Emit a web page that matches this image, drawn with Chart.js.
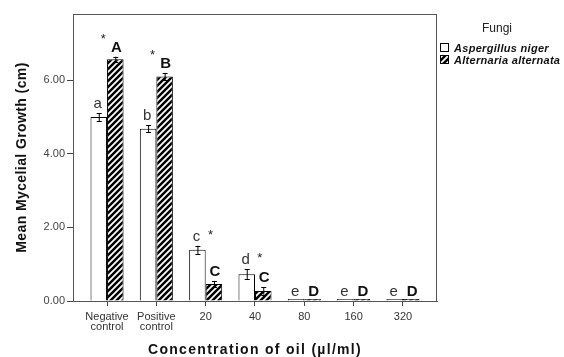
<!DOCTYPE html>
<html>
<head>
<meta charset="utf-8">
<script src="https://cdn.jsdelivr.net/npm/chart.js@4"></script>
<style>
  body { margin: 0; background: #fff; }
  #wrap { width: 564px; height: 357px; }
</style>
</head>
<body>
<div id="wrap"><canvas id="chart" width="564" height="357"></canvas></div>
<script>
// categories and values
const categories = [['Negative', 'control'], ['Positive', 'control'], '20', '40', '80', '160', '320'];
const aspergillus = [5.00, 4.68, 1.39, 0.73, 0, 0, 0];
const aspergillusErr = [0.11, 0.10, 0.11, 0.13, 0, 0, 0];
const alternaria = [6.57, 6.10, 0.46, 0.27, 0, 0, 0];
const alternariaErr = [0.07, 0.10, 0.08, 0.10, 0, 0, 0];
const aspLetters = ['a', 'b', 'c', 'd', 'e', 'e', 'e'];
const altLetters = ['A', 'B', 'C', 'C', 'D', 'D', 'D'];
const aspStar = [false, false, true, true, false, false, false];
const altStar = [true, true, false, false, false, false, false];
const yTicks = [0, 2, 4, 6];
const xTitle = 'Concentration of oil (µl/ml)';
const yTitle = 'Mean Mycelial Growth (cm)';
const legendTitle = 'Fungi';

const FONT = 'Arial, "Liberation Sans", sans-serif';

// diagonal hatch for Alternaria bars
function makeHatch() {
  const s = 6;
  const c = document.createElement('canvas');
  c.width = s; c.height = s;
  const g = c.getContext('2d');
  g.fillStyle = '#000';
  g.fillRect(0, 0, s, s);
  g.strokeStyle = '#fff';
  g.lineWidth = 1.8;
  g.beginPath();
  g.moveTo(-1, 1); g.lineTo(1, -1);
  g.moveTo(0, s); g.lineTo(s, 0);
  g.moveTo(s - 1, s + 1); g.lineTo(s + 1, s - 1);
  g.stroke();
  return g.createPattern(c, 'repeat');
}
const hatch = makeHatch();

const toPoints = arr => arr.map((v, i) => ({ x: i, y: v }));

// frame round the plot area + error bars + letters + titles + legend
const extras = {
  id: 'extras',
  afterDatasetsDraw(chart) {
    const ctx = chart.ctx;
    const a = chart.chartArea;
    const y = chart.scales.y;
    ctx.save();
    ctx.strokeStyle = '#555';
    ctx.lineWidth = 1;
    ctx.strokeRect(a.left + 0.5, a.top + 0.5, a.right - a.left - 1, a.bottom - a.top);

    const sets = [
      { vals: aspergillus, errs: aspergillusErr, letters: aspLetters, stars: aspStar, font: '15px ' + FONT, color: '#333' },
      { vals: alternaria, errs: alternariaErr, letters: altLetters, stars: altStar, font: 'bold 15px ' + FONT, color: '#111' }
    ];
    sets.forEach((s, di) => {
      const meta = chart.getDatasetMeta(di);
      meta.data.forEach((bar, i) => {
        const v = s.vals[i], e = s.errs[i];
        let top = y.getPixelForValue(v);
        if (e > 0) {
          const hi = y.getPixelForValue(v + e), lo = y.getPixelForValue(v - e);
          ctx.strokeStyle = '#000';
          ctx.beginPath();
          ctx.moveTo(bar.x + 0.5, hi); ctx.lineTo(bar.x + 0.5, lo);
          ctx.moveTo(bar.x - 2, Math.round(hi) + 0.5); ctx.lineTo(bar.x + 3, Math.round(hi) + 0.5);
          ctx.moveTo(bar.x - 2, Math.round(lo) + 0.5); ctx.lineTo(bar.x + 3, Math.round(lo) + 0.5);
          ctx.stroke();
          top = hi;
        }
        const base = top - 5;
        ctx.font = s.font;
        ctx.fillStyle = s.color;
        ctx.textAlign = 'center';
        ctx.textBaseline = 'alphabetic';
        ctx.fillText(s.letters[i], bar.x + (di === 0 ? -1 : 1), base);
        if (s.stars[i]) {
          ctx.font = '13px ' + FONT;
          ctx.fillStyle = '#222';
          if (di === 0) ctx.fillText('*', bar.x + 13, base - 2);
          else ctx.fillText('*', bar.x - 12, base - 9);
        }
      });
    });

    // axis titles
    ctx.fillStyle = '#111';
    ctx.font = 'bold 14px ' + FONT;
    ctx.textAlign = 'center';
    ctx.textBaseline = 'alphabetic';
    ctx.letterSpacing = '1.3px';
    ctx.fillText(xTitle, 255, 354);
    ctx.save();
    ctx.translate(26, (a.top + a.bottom) / 2);
    ctx.rotate(-Math.PI / 2);
    ctx.letterSpacing = '0.4px';
    ctx.fillText(yTitle, 0, 0);
    ctx.restore();
    ctx.letterSpacing = '0px';

    // legend
    ctx.fillStyle = '#222';
    ctx.textAlign = 'center';
    ctx.textBaseline = 'middle';
    ctx.font = '12px ' + FONT;
    ctx.fillText(legendTitle, 497, 29);
    const items = [
      { label: chart.data.datasets[0].label, fill: '#fff' },
      { label: chart.data.datasets[1].label, fill: hatch }
    ];
    items.forEach((it, k) => {
      const by = 43 + k * 12;
      ctx.fillStyle = it.fill;
      ctx.fillRect(440, by, 9, 9);
      ctx.strokeStyle = '#000';
      ctx.strokeRect(440.5, by + 0.5, 8, 8);
      ctx.fillStyle = '#111';
      ctx.textAlign = 'left';
      ctx.textBaseline = 'alphabetic';
      ctx.font = 'italic bold 11px ' + FONT;
      ctx.letterSpacing = '0.3px';
      ctx.fillText(it.label, 454, by + 8.5);
      ctx.letterSpacing = '0px';
    });
    ctx.restore();
  }
};

new Chart(document.getElementById('chart'), {
  type: 'bar',
  data: {
    datasets: [
      {
        label: 'Aspergillus niger',
        data: toPoints(aspergillus),
        backgroundColor: '#fff',
        borderColor: '#000',
        borderWidth: 1,
        minBarLength: 2
      },
      {
        label: 'Alternaria alternata',
        data: toPoints(alternaria),
        backgroundColor: hatch,
        borderColor: '#000',
        borderWidth: 1,
        minBarLength: 2
      }
    ]
  },
  options: {
    responsive: false,
    animation: false,
    barPercentage: 1,
    categoryPercentage: 0.67,
    layout: { padding: { top: 14, right: 127, left: 0, bottom: 0 } },
    plugins: { legend: { display: false }, tooltip: { enabled: false } },
    scales: {
      x: {
        type: 'linear',
        offset: false,
        min: -0.69,
        max: 6.69,
        afterBuildTicks: s => { s.ticks = categories.map((c, i) => ({ value: i })); },
        afterFit: s => { s.height = 56; },
        ticks: {
          autoSkip: false,
          maxRotation: 0,
          padding: 6,
          color: '#333',
          font: { family: FONT, size: 11, lineHeight: 0.9 },
          callback: v => categories[v]
        },
        grid: { display: true, drawOnChartArea: false, drawTicks: true, tickLength: 5, color: '#444', offset: false },
        border: { display: true, color: '#555' }
      },
      y: {
        min: 0,
        max: 7.8,
        afterBuildTicks: s => { s.ticks = yTicks.map(v => ({ value: v })); },
        afterFit: s => { s.width = 73; },
        ticks: {
          padding: 2,
          color: '#444',
          font: { family: FONT, size: 11 },
          callback: v => v.toFixed(2)
        },
        grid: { display: true, drawOnChartArea: false, drawTicks: true, tickLength: 6, color: '#444' },
        border: { display: true, color: '#555' }
      }
    }
  },
  plugins: [extras]
});
</script>
</body>
</html>
